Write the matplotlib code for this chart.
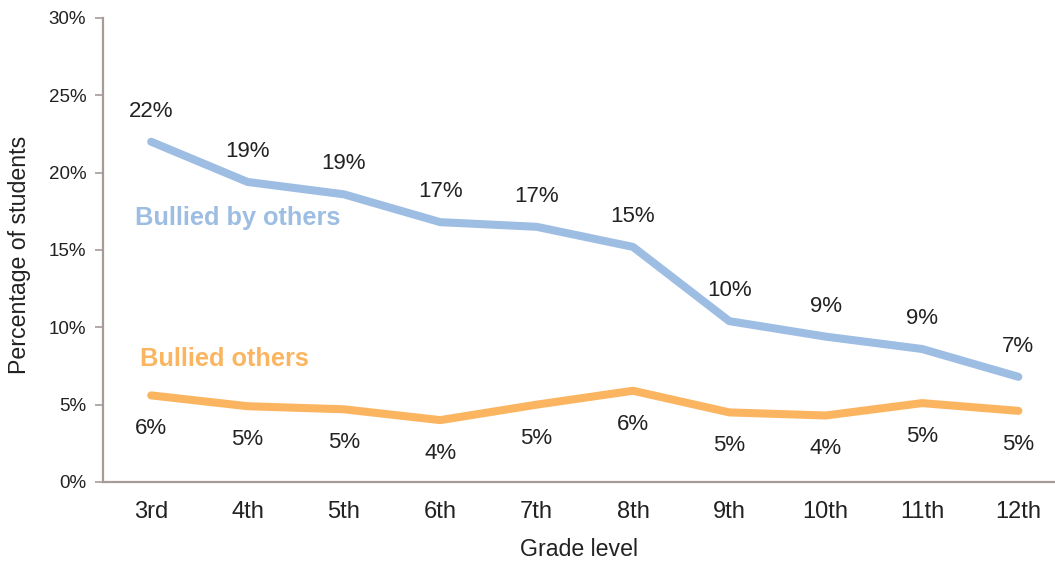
import matplotlib
matplotlib.use("Agg")
import matplotlib.pyplot as plt
from matplotlib.ticker import FuncFormatter

plt.rcParams['font.family'] = ['Liberation Sans', 'DejaVu Sans']

grades = ["3rd", "4th", "5th", "6th", "7th", "8th", "9th", "10th", "11th", "12th"]
bullied_by_others = [22.0, 19.4, 18.6, 16.8, 16.5, 15.2, 10.4, 9.4, 8.6, 6.8]
bullied_others = [5.6, 4.9, 4.7, 4.0, 5.0, 5.9, 4.5, 4.3, 5.1, 4.6]
labels_by = ["22%", "19%", "19%", "17%", "17%", "15%", "10%", "9%", "9%", "7%"]
labels_others = ["6%", "5%", "5%", "4%", "5%", "6%", "5%", "4%", "5%", "5%"]
yticks = [0, 5, 10, 15, 20, 25, 30]

blue = "#9dbde3"
orange = "#fbb560"
spine = "#a59b99"
txt = "#222222"

fig = plt.figure(figsize=(10.55, 5.63), dpi=100)
ax = fig.add_axes([103/1055, 1-482/563, 1-103/1055, (482-18)/563])

x = list(range(len(grades)))
ax.plot(x, bullied_by_others, color=blue, lw=5.8, solid_capstyle='round', solid_joinstyle='round')
ax.plot(x, bullied_others, color=orange, lw=5.8, solid_capstyle='round', solid_joinstyle='round')

for xi, v, l in zip(x, bullied_by_others, labels_by):
    ax.annotate(l, (xi, v), xytext=(0, 22), textcoords='offset points',
                ha='center', va='center', fontsize=16, color=txt)
for xi, v, l in zip(x, bullied_others, labels_others):
    ax.annotate(l, (xi, v), xytext=(0, -24), textcoords='offset points',
                ha='center', va='center', fontsize=16, color=txt)

ax.text(-0.17, 17.1, "Bullied by others", color=blue, fontsize=18.3, fontweight='bold',
        ha='left', va='center')
ax.text(-0.115, 7.95, "Bullied others", color=orange, fontsize=18.3, fontweight='bold',
        ha='left', va='center')

ax.set_xlim(-0.5, 9.38)
ax.set_ylim(0, 30)
ax.set_xticks(x)
ax.set_xticklabels(grades, fontsize=17, color=txt)
ax.set_yticks(yticks)
ax.yaxis.set_major_formatter(FuncFormatter(lambda v, p: f"{int(v)}%"))
ax.tick_params(axis='y', labelsize=13.5, colors=spine, labelcolor=txt, length=6, width=1.2, pad=6)
ax.tick_params(axis='x', length=0, pad=14)

for s in ['top', 'right']:
    ax.spines[s].set_visible(False)
for s in ['left', 'bottom']:
    ax.spines[s].set_color(spine)
    ax.spines[s].set_linewidth(1.6)

ax.set_xlabel("Grade level", fontsize=16.7, color=txt)
ax.set_ylabel("Percentage of students", fontsize=16.7, color=txt)
ax.xaxis.set_label_coords(0.5 - 0, -(550 - 482) / 464)
ax.xaxis.label.set_va('center')
ax.yaxis.set_label_coords((20 - 103) / 952, 0.5 - (255 - 250) / 464)
ax.yaxis.label.set_va('center')
ax.xaxis.label.set_position(((579 - 103) / 952, -(550 - 482) / 464))

fig.savefig("out.png", dpi=100)
